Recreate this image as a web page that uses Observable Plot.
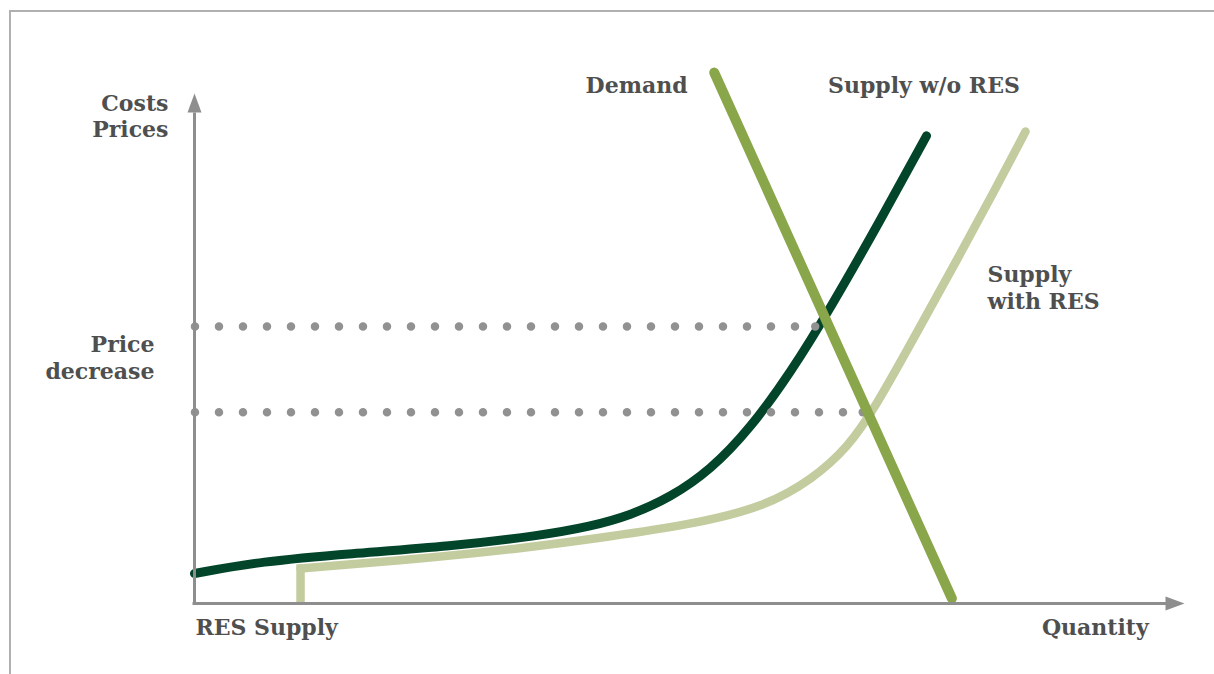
<!DOCTYPE html>
<html>
<head>
<meta charset="utf-8">
<script src="https://cdn.jsdelivr.net/npm/d3@7"></script>
<script src="https://cdn.jsdelivr.net/npm/@observablehq/plot@0.6"></script>
<style>
  html, body { margin: 0; padding: 0; background: #fff; }
  #wrap { position: relative; width: 1214px; height: 674px; overflow: hidden; }
  #frame { position: absolute; left: 9px; top: 10px; right: -4px; bottom: -4px;
           border-top: 2px solid #b0b0b0; border-left: 2px solid #b0b0b0; pointer-events: none; }
  #chart svg { display: block; }
</style>
</head>
<body>
<div id="wrap"><div id="chart"></div><div id="frame"></div></div>
<script>
// ---- data (quantity 0..100, price 0..100, schematic units) ----
const supplyWoResQ = [0, 6.67, 15.76, 25.86, 34.95, 40.00, 44.04, 48.08, 52.12, 56.16, 60.20, 64.24, 69.29, 73.94];
const supplyWoResP = [5.88, 8.24, 9.80, 11.18, 13.33, 15.10, 17.29, 20.82, 26.16, 34.39, 45.22, 57.92, 75.18, 91.69];

const supplyWithResQ = [10.71, 10.71, 23.13, 32.93, 42.02, 50.10, 57.47, 62.53, 65.96, 68.59, 73.03, 77.37, 80.71, 83.94];
const supplyWithResP = [0.8, 6.86, 8.82, 10.78, 13.14, 15.49, 18.82, 24.51, 30.59, 37.84, 53.33, 68.63, 80.59, 92.55];

const demandQ = [52.5, 76.5];
const demandP = [104.1, 1.0];

const priceLevels = [54.3, 37.5];      // market price w/o RES, with RES
const priceLevelQ = [62.7, 67.5];      // quantity where each level meets demand

const labels = {
  yAxis: "Costs\nPrices",
  decrease: "Price\ndecrease",
  demand: "Demand",
  woRes: "Supply w/o RES",
  withRes: "Supply\nwith RES",
  resSupply: "RES Supply",
  xAxis: "Quantity"
};

// ---- build tables ----
const dark = supplyWoResQ.map((q, i) => ({q, p: supplyWoResP[i]}));
const light = supplyWithResQ.map((q, i) => ({q, p: supplyWithResP[i]}));
const lightStep = light.slice(0, 2);
const lightCurve = light.slice(1);
const demand = demandQ.map((q, i) => ({q, p: demandP[i]}));
const levels = priceLevels.map((p, i) => ({p, q: priceLevelQ[i]}));

const gray = "#8e8e8e";
const textFill = "#4f4f4f";
const font = {fontFamily: "DejaVu Serif", fontWeight: "bold", fontSize: 22, fill: textFill, lineAnchor: "bottom", lineHeight: 1.2};

const arrowHead = {
  draw(ctx) {
    ctx.moveTo(0, 0);
    ctx.lineTo(7, 19);
    ctx.lineTo(-7, 19);
    ctx.closePath();
  }
};

const chart = Plot.plot({
  width: 1214,
  height: 674,
  marginTop: 0, marginRight: 0, marginBottom: 0, marginLeft: 0,
  x: {domain: [0, 100], range: [194, 1184], axis: null},
  y: {domain: [0, 100], range: [603, 93], axis: null},
  marks: [
    // supply with RES (light)
    Plot.line(lightStep, {x: "q", y: "p", stroke: "#c3cc9f", strokeWidth: 8.5, strokeLinecap: "square"}),
    Plot.line(lightCurve, {x: "q", y: "p", stroke: "#c3cc9f", strokeWidth: 8.5, curve: "basis", strokeLinecap: "round"}),
    // supply without RES (dark)
    Plot.line(dark, {x: "q", y: "p", stroke: "#03452a", strokeWidth: 9, curve: "basis", strokeLinecap: "round"}),
    // dotted price levels
    Plot.ruleY(levels, {y: "p", x1: 0.1, x2: "q", stroke: "#919191", strokeWidth: 8.5, strokeDasharray: "0 24", strokeLinecap: "round"}),
    Plot.dot(levels, {x: "q", y: "p", r: 4.2, fill: "#919191"}),
    // demand
    Plot.line(demand, {x: "q", y: "p", stroke: "#8aa64b", strokeWidth: 10, strokeLinecap: "round"}),
    // axes
    Plot.ruleX([0], {y1: 0, y2: 96.2, stroke: gray, strokeWidth: 3}),
    Plot.ruleY([0], {x1: -0.15, x2: 98.4, stroke: gray, strokeWidth: 3}),
    Plot.dot([0], {x: 0, y: 100, symbol: arrowHead, fill: gray, stroke: "none"}),
    Plot.dot([0], {x: 100, y: 0, symbol: arrowHead, fill: gray, stroke: "none", rotate: 90}),
    // labels
    Plot.text([labels.yAxis], {x: -2.63, y: 91.4, text: d => d, textAnchor: "end", ...font}),
    Plot.text([labels.decrease], {x: -4.04, y: 44.1, text: d => d, textAnchor: "end", ...font}),
    Plot.text([labels.demand], {x: 39.5, y: 100.1, text: d => d, textAnchor: "start", ...font}),
    Plot.text([labels.woRes], {x: 64.0, y: 100.1, text: d => d, textAnchor: "start", ...font}),
    Plot.text([labels.withRes], {x: 80.1, y: 57.8, text: d => d, textAnchor: "start", ...font}),
    Plot.text([labels.resSupply], {x: 0.1, y: -6.27, text: d => d, textAnchor: "start", ...font}),
    Plot.text([labels.xAxis], {x: 85.6, y: -6.27, text: d => d, textAnchor: "start", ...font})
  ]
});
document.getElementById("chart").appendChild(chart);
</script>
</body>
</html>
